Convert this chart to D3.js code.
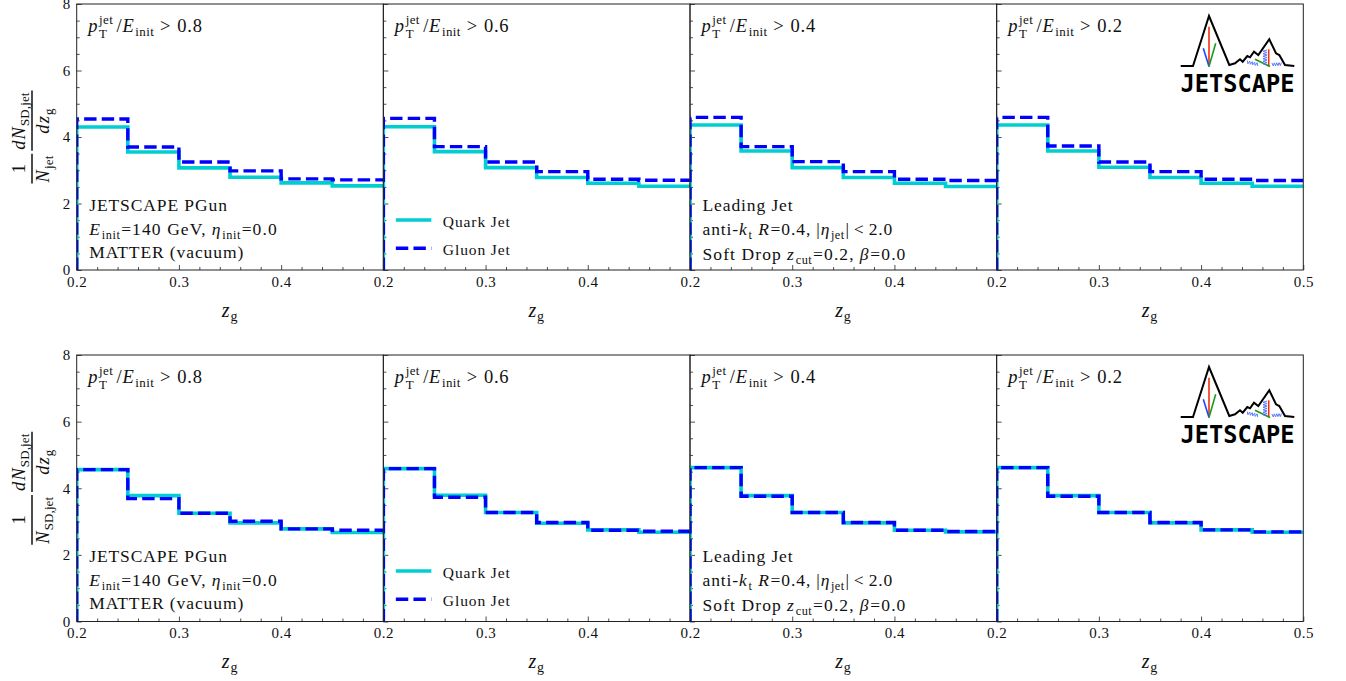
<!DOCTYPE html>
<html><head><meta charset="utf-8">
<script src="https://cdn.jsdelivr.net/npm/d3@7"></script>
<style>
html,body{margin:0;padding:0;background:#fff;}
svg{display:block;}
text{font-family:"Liberation Serif","DejaVu Serif",serif;fill:#111;white-space:pre;}
</style></head><body>
<svg id="chart" width="1346" height="681"></svg>
<script>
// z_g bin edges shared by every histogram
const zgEdges = [0.2, 0.25, 0.3, 0.35, 0.4, 0.45, 0.5];
// leading-jet pT / E_init selections, one per column
const ptCuts = ["0.8", "0.6", "0.4", "0.2"];

// top row: normalised to the number of jets
const quarkPerJet = [
  [4.30, 3.55, 3.07, 2.79, 2.62, 2.53],
  [4.31, 3.56, 3.08, 2.78, 2.61, 2.52],
  [4.36, 3.58, 3.08, 2.78, 2.61, 2.51],
  [4.36, 3.58, 3.09, 2.78, 2.61, 2.52]
];
const gluonPerJet = [
  [4.54, 3.70, 3.25, 2.98, 2.74, 2.71],
  [4.56, 3.71, 3.25, 2.96, 2.73, 2.70],
  [4.59, 3.71, 3.26, 2.96, 2.73, 2.69],
  [4.59, 3.73, 3.25, 2.96, 2.73, 2.69]
];
// bottom row: normalised to the number of soft-drop jets
const quarkPerSDJet = [
  [4.56, 3.78, 3.25, 2.96, 2.78, 2.67],
  [4.59, 3.79, 3.27, 2.95, 2.75, 2.68],
  [4.62, 3.78, 3.27, 2.96, 2.74, 2.69],
  [4.62, 3.78, 3.27, 2.96, 2.75, 2.68]
];
const gluonPerSDJet = [
  [4.56, 3.69, 3.25, 3.01, 2.78, 2.74],
  [4.59, 3.73, 3.27, 2.97, 2.74, 2.71],
  [4.62, 3.76, 3.27, 2.97, 2.74, 2.70],
  [4.62, 3.76, 3.27, 2.97, 2.75, 2.69]
];

const xTickValues = [0.2, 0.3, 0.4, 0.5];
const yTickValues = [0, 2, 4, 6, 8];
const seriesNames = ["Quark Jet", "Gluon Jet"];

const QUARK_COLOR = "#00CED1";
const GLUON_COLOR = "#0000FF";

const svg = d3.select("#chart");
svg.append("rect").attr("width", 1346).attr("height", 681).attr("fill", "#fff");

const PANEL_LEFT = 76.7, PANEL_W = 306.65;
const rows = [
  {top: 4, bottom: 270, quark: quarkPerJet, gluon: gluonPerJet, norm: [{t: "N", it: true}, {sub: "jet"}]},
  {top: 355, bottom: 621.5, quark: quarkPerSDJet, gluon: gluonPerSDJet, norm: [{t: "N", it: true}, {sub: "SD,jet"}]}
];

// Lay out a run of math-style text pieces (italic letters, sub/superscripts)
function mathText(parent, x, y, parts, fs, anchor, spacing) {
  const g = parent.append("g");
  const ls = spacing == null ? 0.9 : spacing;
  let cx = 0;
  const put = (str, px, py, size, italic, lsp) => {
    const t = g.append("text").attr("x", px).attr("y", py)
      .attr("xml:space", "preserve")
      .style("font-size", size + "px")
      .style("letter-spacing", lsp + "px")
      .style("font-style", italic ? "italic" : "normal")
      .text(str);
    return t.node().getComputedTextLength();
  };
  parts.forEach(p => {
    if (p.gap != null) {
      cx += p.gap;
    } else if (p.t != null) {
      cx += put(p.t, cx, 0, fs, p.it, ls);
      if (p.it) cx += 0.8;
    } else {
      const s = fs * 0.7;
      let w = 0;
      if (p.sup != null) w = Math.max(w, put(p.sup, cx, -0.42 * fs, s, false, ls * 0.5));
      if (p.sub != null) w = Math.max(w, put(p.sub, cx, (p.sup != null ? 0.3 : 0.22) * fs, s, false, ls * 0.5));
      cx += w + 0.8;
    }
  });
  const dx = anchor === "middle" ? -cx / 2 : 0;
  g.attr("transform", `translate(${x + dx},${y})`);
  return cx;
}

function drawLogo(parent, ox, oy) {
  const L = parent.append("g").attr("transform", `translate(${ox},${oy})`);
  const ridge = [[0.7,51],[13,51],[29,1],[49.3,50],[55,48.3],[60,44.3],[62.7,46.7],[67.3,41],[70,42.3],
    [74,36.7],[78.3,40],[89.3,24.3],[96,38.3],[99.3,40],[105,50],[114.3,51]];
  const seg = (a, b, c, w) => L.append("line").attr("x1", a[0]).attr("y1", a[1]).attr("x2", b[0]).attr("y2", b[1])
    .attr("stroke", c).attr("stroke-width", w);
  seg([29, 11.7], [29, 51.5], "#f2300c", 1.6);
  seg([23.3, 33.3], [29, 51.5], "#1f45ff", 1.6);
  seg([35.7, 28.3], [29, 51.5], "#1c9a1c", 1.6);
  seg([88.7, 34.3], [88.7, 51.5], "#f2300c", 1.6);
  seg([75, 44.3], [90, 51.5], "#1c9a1c", 1.6);
  const zig = (x0, y0, x1, y1, n, amp) => {
    const pts = [];
    const dx = x1 - x0, dy = y1 - y0, len = Math.hypot(dx, dy);
    const nx = -dy / len, ny = dx / len;
    for (let k = 0; k <= n; k++) {
      const f = k / n, s = (k % 2 ? amp : -amp);
      pts.push([x0 + dx * f + nx * s, y0 + dy * f + ny * s]);
    }
    L.append("path").attr("d", d3.line()(pts)).attr("fill", "none").attr("stroke", "#4a6cff").attr("stroke-width", 0.9);
  };
  zig(85, 35, 85, 50, 12, 2);
  zig(67, 47, 78, 49.5, 9, 1.5);
  zig(92, 49.5, 101.5, 49, 8, 1.5);
  L.append("path").attr("d", d3.line()(ridge)).attr("fill", "none").attr("stroke", "#000")
    .attr("stroke-width", 2).attr("stroke-linejoin", "miter");
  L.append("text").attr("x", 0.5).attr("y", 76.7).attr("textLength", 114).attr("lengthAdjust", "spacingAndGlyphs")
    .style("font-family", "'DejaVu Sans Mono', monospace").style("font-weight", "bold")
    .style("font-size", "25px").style("fill", "#000").text("JETSCAPE");
}

const stepLine = (x, y) => d3.line().x(d => x(d[0])).y(d => y(d[1])).curve(d3.curveStepAfter);
const stepPoints = vals => {
  const pts = [[zgEdges[0], 0]];
  vals.forEach((v, i) => pts.push([zgEdges[i], v]));
  pts.push([zgEdges[zgEdges.length - 1], vals[vals.length - 1]]);
  return pts;
};

rows.forEach((row, r) => {
  const y = d3.scaleLinear().domain([0, 8]).range([row.bottom, row.top]);
  ptCuts.forEach((cut, i) => {
    const x0 = PANEL_LEFT + i * PANEL_W, x1 = x0 + PANEL_W;
    const x = d3.scaleLinear().domain([zgEdges[0], zgEdges[zgEdges.length - 1]]).range([x0, x1]);
    const P = svg.append("g");
    const clipId = `clip-${r}-${i}`;
    P.append("clipPath").attr("id", clipId).append("rect")
      .attr("x", x0).attr("y", row.top).attr("width", PANEL_W).attr("height", row.bottom - row.top);

    // ticks (inward, left and bottom only)
    const xAxis = d3.axisBottom(x).tickValues(i === 3 ? xTickValues : xTickValues.slice(0, 3))
      .tickSize(-5).tickPadding(6).tickFormat(d3.format(".1f"));
    const xMinor = d3.axisBottom(x).tickValues(d3.range(0.22, 0.5, 0.02).filter(v => Math.abs(v * 10 - Math.round(v * 10)) > 1e-6))
      .tickSize(-3).tickFormat("");
    const yAxis = d3.axisLeft(y).tickValues(yTickValues).tickSize(-5).tickPadding(6)
      .tickFormat(i === 0 ? d3.format("d") : "");
    const yMinor = d3.axisLeft(y).tickValues(d3.range(0.5, 8, 0.5).filter(v => v % 2 !== 0)).tickSize(-3).tickFormat("");
    [[xAxis, `translate(0,${row.bottom})`], [xMinor, `translate(0,${row.bottom})`],
     [yAxis, `translate(${x0},0)`], [yMinor, `translate(${x0},0)`]].forEach(([ax, tr]) => {
      const a = P.append("g").attr("transform", tr).call(ax);
      a.select(".domain").remove();
      a.selectAll("line").attr("stroke", "#222").attr("stroke-width", 0.8);
      a.selectAll("text").attr("fill", "#111")
        .style("font-family", "'Liberation Serif', serif").style("font-size", "15px").style("letter-spacing", "0.5px");
    });

    // histograms
    const H = P.append("g").attr("clip-path", `url(#${clipId})`);
    H.append("path").attr("d", stepLine(x, y)(stepPoints(row.quark[i])))
      .attr("fill", "none").attr("stroke", QUARK_COLOR).attr("stroke-width", 3.6);
    H.append("path").attr("d", stepLine(x, y)(stepPoints(row.gluon[i])))
      .attr("fill", "none").attr("stroke", GLUON_COLOR).attr("stroke-width", 3.4)
      .attr("stroke-dasharray", "12.4,5.2");

    // frame
    P.append("rect").attr("x", x0).attr("y", row.top).attr("width", PANEL_W).attr("height", row.bottom - row.top)
      .attr("fill", "none").attr("stroke", "#222").attr("stroke-width", 1);

    // selection label
    mathText(P, x0 + 11.5, row.top + 28, [{t: "p", it: true}, {sup: "jet", sub: "T"}, {gap: 2.5}, {t: "/"},
      {t: "E", it: true}, {sub: "init"}, {gap: 5}, {t: ">"}, {gap: 6}, {t: cut}], 18.5, "start", 0.8);

    // x-axis title
    mathText(P, (x0 + x1) / 2, row.bottom + 46.5, [{t: "z", it: true}, {sub: "g"}], 20, "middle", 0);

    const tx = x0 + 12.5, base = row.top + 206.7;
    if (i === 0) {
      mathText(P, tx, base, [{t: "JETSCAPE PGun"}], 17.5, "start");
      mathText(P, tx, base + 24.3, [{t: "E", it: true}, {sub: "init"}, {t: "=140 GeV,"}, {gap: 5}, {t: "η", it: true}, {sub: "init"}, {t: "=0.0"}], 17.5, "start", 1.1);
      mathText(P, tx, base + 47.5, [{t: "MATTER (vacuum)"}], 17.5, "start");
    }
    if (i === 2) {
      mathText(P, tx, base, [{t: "Leading Jet"}], 17.5, "start");
      mathText(P, tx, base + 24.3, [{t: "anti-"}, {t: "k", it: true}, {sub: "t"}, {gap: 5}, {t: "R", it: true},
        {t: "=0.4,"}, {gap: 5}, {t: "|"}, {t: "η", it: true}, {sub: "jet"}, {t: "|"}, {gap: 4}, {t: "<"}, {gap: 4}, {t: "2.0"}], 17.5, "start");
      mathText(P, tx, base + 49.5, [{t: "Soft Drop"}, {gap: 5}, {t: "z", it: true}, {sub: "cut"}, {t: "=0.2,"}, {gap: 5},
        {t: "β", it: true}, {t: "=0.0"}], 17.5, "start", 1.1);
    }
    if (i === 1) {
      const lg = P.append("g");
      const ly0 = row.top + 216;
      seriesNames.forEach((name, k) => {
        const ly = ly0 + k * 28.3;
        lg.append("line").attr("x1", x0 + 12.5).attr("x2", x0 + 48).attr("y1", ly).attr("y2", ly)
          .attr("stroke", k === 0 ? QUARK_COLOR : GLUON_COLOR).attr("stroke-width", k === 0 ? 3.6 : 3.4)
          .attr("stroke-dasharray", k === 0 ? null : "12.4,5.2");
        lg.append("text").attr("x", x0 + 59.5).attr("y", ly + 7)
          .style("font-size", "15.5px").style("letter-spacing", "0.9px").text(name);
      });
    }
    if (i === 3) drawLogo(P, 1180, row.top + 11);
  });

  // y-axis title: (1/N) dN_SD,jet/dz_g, rotated
  const yc = (row.top + row.bottom) / 2;
  const YL = svg.append("g").attr("transform", `translate(32,${yc}) rotate(-90)`);
  const f1 = YL.append("g"), f2 = YL.append("g");
  const n1 = mathText(f1, 0, -7, [{t: "1"}], 18.5, "middle", 0);
  const d1 = mathText(f1, 0, 17, row.norm, 18.5, "middle", 0.3);
  const n2 = mathText(f2, 0, -7, [{t: "d", it: true}, {t: "N", it: true}, {sub: "SD,jet"}], 18.5, "middle", 0.3);
  const d2 = mathText(f2, 0, 17, [{t: "d", it: true}, {t: "z", it: true}, {sub: "g"}], 18.5, "middle", 0.3);
  const w1 = Math.max(n1, d1) + 2, w2 = Math.max(n2, d2) + 2, gap = 3;
  const total = w1 + gap + w2;
  const c1 = -total / 2 + w1 / 2, c2 = total / 2 - w2 / 2;
  f1.attr("transform", `translate(${c1},0)`);
  f2.attr("transform", `translate(${c2},0)`);
  YL.append("line").attr("x1", c1 - w1 / 2).attr("x2", c1 + w1 / 2).attr("y1", 0).attr("y2", 0).attr("stroke", "#111").attr("stroke-width", 1.5);
  YL.append("line").attr("x1", c2 - w2 / 2).attr("x2", c2 + w2 / 2).attr("y1", 0).attr("y2", 0).attr("stroke", "#111").attr("stroke-width", 1.5);
});
</script>
</body></html>
